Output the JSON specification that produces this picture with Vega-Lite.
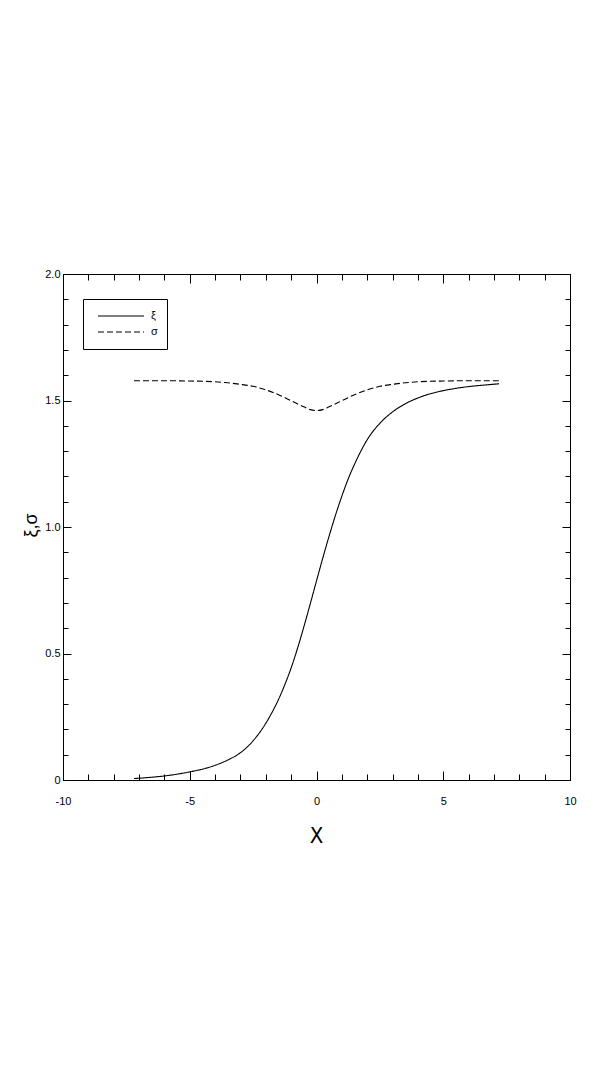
{
  "$schema": "https://vega.github.io/schema/vega-lite/v6.json",
  "autosize": "none",
  "width": 507,
  "height": 506,
  "padding": {"left": 63, "top": 274, "right": 28, "bottom": 298},
  "background": "white",
  "config": {
    "view": {"stroke": "black", "strokeWidth": 1},
    "axis": {"labelFont": "Liberation Sans", "titleFont": "DejaVu Sans Condensed, Liberation Sans", "labelColor": "#000000", "titleColor": "#000000", "domainColor": "#000000", "tickColor": "#000000", "grid": false, "titleFontWeight": "normal"}
  },
  "datasets": {
    "curves": [
      {"x": -7.2, "v": 0.006, "series": "ξ"},
      {"x": -7, "v": 0.007, "series": "ξ"},
      {"x": -6.5, "v": 0.011, "series": "ξ"},
      {"x": -6, "v": 0.016, "series": "ξ"},
      {"x": -5.5, "v": 0.023, "series": "ξ"},
      {"x": -5, "v": 0.032, "series": "ξ"},
      {"x": -4.5, "v": 0.043, "series": "ξ"},
      {"x": -4, "v": 0.058, "series": "ξ"},
      {"x": -3.5, "v": 0.079, "series": "ξ"},
      {"x": -3, "v": 0.108, "series": "ξ"},
      {"x": -2.5, "v": 0.155, "series": "ξ"},
      {"x": -2, "v": 0.224, "series": "ξ"},
      {"x": -1.75, "v": 0.268, "series": "ξ"},
      {"x": -1.5, "v": 0.318, "series": "ξ"},
      {"x": -1.25, "v": 0.377, "series": "ξ"},
      {"x": -1, "v": 0.443, "series": "ξ"},
      {"x": -0.75, "v": 0.52, "series": "ξ"},
      {"x": -0.5, "v": 0.605, "series": "ξ"},
      {"x": -0.25, "v": 0.695, "series": "ξ"},
      {"x": 0, "v": 0.787, "series": "ξ"},
      {"x": 0.25, "v": 0.878, "series": "ξ"},
      {"x": 0.5, "v": 0.965, "series": "ξ"},
      {"x": 0.75, "v": 1.047, "series": "ξ"},
      {"x": 1, "v": 1.122, "series": "ξ"},
      {"x": 1.25, "v": 1.19, "series": "ξ"},
      {"x": 1.5, "v": 1.248, "series": "ξ"},
      {"x": 1.75, "v": 1.3, "series": "ξ"},
      {"x": 2, "v": 1.345, "series": "ξ"},
      {"x": 2.5, "v": 1.41, "series": "ξ"},
      {"x": 3, "v": 1.455, "series": "ξ"},
      {"x": 3.5, "v": 1.487, "series": "ξ"},
      {"x": 4, "v": 1.51, "series": "ξ"},
      {"x": 4.5, "v": 1.527, "series": "ξ"},
      {"x": 5, "v": 1.539, "series": "ξ"},
      {"x": 5.5, "v": 1.548, "series": "ξ"},
      {"x": 6, "v": 1.555, "series": "ξ"},
      {"x": 6.5, "v": 1.56, "series": "ξ"},
      {"x": 7.2, "v": 1.566, "series": "ξ"},
      {"x": -7.2, "v": 1.578, "series": "σ"},
      {"x": -6, "v": 1.578, "series": "σ"},
      {"x": -5, "v": 1.577, "series": "σ"},
      {"x": -4, "v": 1.574, "series": "σ"},
      {"x": -3.5, "v": 1.57, "series": "σ"},
      {"x": -3, "v": 1.564, "series": "σ"},
      {"x": -2.5, "v": 1.556, "series": "σ"},
      {"x": -2, "v": 1.542, "series": "σ"},
      {"x": -1.5, "v": 1.523, "series": "σ"},
      {"x": -1, "v": 1.499, "series": "σ"},
      {"x": -0.5, "v": 1.475, "series": "σ"},
      {"x": -0.25, "v": 1.464, "series": "σ"},
      {"x": 0, "v": 1.46, "series": "σ"},
      {"x": 0.25, "v": 1.464, "series": "σ"},
      {"x": 0.5, "v": 1.475, "series": "σ"},
      {"x": 1, "v": 1.499, "series": "σ"},
      {"x": 1.5, "v": 1.523, "series": "σ"},
      {"x": 2, "v": 1.542, "series": "σ"},
      {"x": 2.5, "v": 1.556, "series": "σ"},
      {"x": 3, "v": 1.564, "series": "σ"},
      {"x": 3.5, "v": 1.57, "series": "σ"},
      {"x": 4, "v": 1.574, "series": "σ"},
      {"x": 5, "v": 1.577, "series": "σ"},
      {"x": 6, "v": 1.578, "series": "σ"},
      {"x": 7.2, "v": 1.578, "series": "σ"}
    ]
  },
  "data": {"name": "curves"},
  "resolve": {"axis": {"x": "independent", "y": "independent"}},
  "layer": [
    {
      "transform": [{"filter": "datum.series === 'ξ'"}],
      "mark": {"type": "line", "color": "black", "strokeWidth": 1.1, "interpolate": "monotone"},
      "encoding": {
        "x": {"field": "x", "type": "quantitative",
          "scale": {"domain": [-10, 10], "nice": false, "zero": false},
          "axis": {"orient": "bottom", "title": "X", "titleFontSize": 22, "titleX": 253, "titleY": 55, "titleBaseline": "middle", "titleAlign": "center",
            "values": [-10,-9,-8,-7,-6,-5,-4,-3,-2,-1,0,1,2,3,4,5,6,7,8,9,10],
            "labelExpr": "datum.value % 5 === 0 ? '' + datum.value : ''",
            "labelFontSize": 11, "labelPadding": 24, "labelFlush": false,
            "tickSize": {"condition": {"test": "datum.value % 5 === 0", "value": -9}, "value": -6}}},
        "y": {"field": "v", "type": "quantitative",
          "scale": {"domain": [0, 2], "nice": false, "zero": false},
          "axis": {"orient": "left", "title": "ξ,σ", "titleFont": "Liberation Sans", "titleFontSize": 18, "titleAngle": -90, "titleX": -32, "titleY": 251, "titleBaseline": "middle", "titleAlign": "center",
            "values": [0,0.1,0.2,0.3,0.4,0.5,0.6,0.7,0.8,0.9,1,1.1,1.2,1.3,1.4,1.5,1.6,1.7,1.8,1.9,2],
            "labelExpr": "abs(datum.value*2 - round(datum.value*2)) < 0.000001 ? (datum.value === 0 ? '0' : format(datum.value, '.1f')) : ''",
            "labelFontSize": 11, "labelPadding": 11, "labelFlush": false,
            "tickSize": {"condition": {"test": "abs(datum.value*2 - round(datum.value*2)) < 0.000001", "value": -8}, "value": -5}}},
        "strokeDash": {"field": "series", "type": "nominal",
          "scale": {"domain": ["ξ", "σ"], "range": [[1, 0], [6, 3]]},
          "legend": {"title": null, "orient": "none", "legendX": 20, "legendY": 25, "strokeColor": "black", "padding": 9,
            "symbolType": "stroke", "symbolSize": 2116, "symbolStrokeWidth": 1.1, "symbolStrokeColor": "black", "symbolOffset": 5,
            "clipHeight": 16, "rowPadding": 0, "labelOffset": 6, "labelFontSize": 11, "labelFont": "Liberation Sans", "labelColor": "black"}}
      }
    },
    {
      "transform": [{"filter": "datum.series === 'σ'"}],
      "mark": {"type": "line", "color": "black", "strokeWidth": 1.1, "interpolate": "monotone"},
      "encoding": {
        "x": {"field": "x", "type": "quantitative",
          "axis": {"orient": "top", "title": null, "labels": false,
            "values": [-10,-9,-8,-7,-6,-5,-4,-3,-2,-1,0,1,2,3,4,5,6,7,8,9,10],
            "tickSize": {"condition": {"test": "datum.value % 5 === 0", "value": -9}, "value": -6}}},
        "y": {"field": "v", "type": "quantitative",
          "axis": {"orient": "right", "title": null, "labels": false,
            "values": [0,0.1,0.2,0.3,0.4,0.5,0.6,0.7,0.8,0.9,1,1.1,1.2,1.3,1.4,1.5,1.6,1.7,1.8,1.9,2],
            "tickSize": {"condition": {"test": "abs(datum.value*2 - round(datum.value*2)) < 0.000001", "value": -8}, "value": -5}}},
        "strokeDash": {"field": "series", "type": "nominal"}
      }
    }
  ]
}
